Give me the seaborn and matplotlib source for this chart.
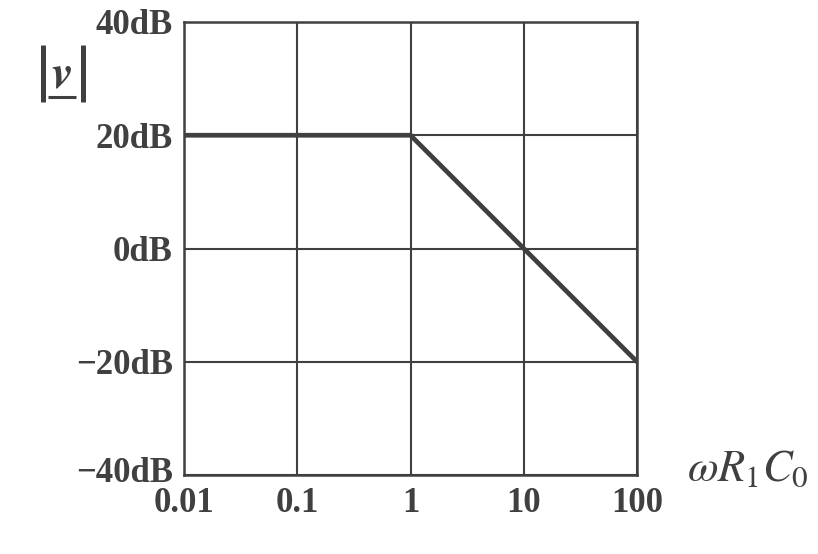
import matplotlib
matplotlib.use("Agg")
import matplotlib.pyplot as plt
import matplotlib.transforms as mtransforms
import seaborn as sns
import pandas as pd
from matplotlib.lines import Line2D

sns.set_theme(style="white")
plt.rcParams['font.family'] = ['Liberation Serif', 'DejaVu Serif']
plt.rcParams['mathtext.fontset'] = 'stix'

# data
freq = [0.01, 1, 100]
gain_db = [20, 20, -20]
x_ticks = [0.01, 0.1, 1, 10, 100]
x_tick_labels = ["0.01", "0.1", "1", "10", "100"]
y_ticks = [-40, -20, 0, 20, 40]
y_tick_labels = ["\u221240dB", "\u221220dB", "0dB", "20dB", "40dB"]

C = "#404040"
df = pd.DataFrame({"f": freq, "g": gain_db})

W, H = 818, 554
fig = plt.figure(figsize=(W/100, H/100), dpi=100)
ax = fig.add_axes([184/W, 1-475/H, (637-184)/W, (475-22)/H])

sns.lineplot(data=df, x="f", y="g", ax=ax, color=C, linewidth=3.4, zorder=5)
ax.set_xscale("log")
ax.set_xlim(0.01, 100)
ax.set_ylim(-40, 40)
ax.set_xticks(x_ticks)
ax.set_xticklabels(x_tick_labels)
ax.set_yticks(y_ticks)
ax.set_yticklabels(y_tick_labels)
ax.minorticks_off()
ax.grid(True, color=C, linewidth=1.5)
for s in ax.spines.values():
    s.set_color(C)
    s.set_linewidth(1.8)
ax.tick_params(length=0, labelsize=25, colors=C)
ax.tick_params(axis="y", pad=8)
ax.tick_params(axis="x", pad=9)
for lab in ax.get_xticklabels() + ax.get_yticklabels():
    lab.set_fontweight("bold")
# lift the bottom y label slightly as in the reference
lab0 = ax.get_yticklabels()[0]
lab0.set_transform(lab0.get_transform() +
                   mtransforms.ScaledTranslation(0, 5/100, fig.dpi_scale_trans))
ax.set_xlabel("")
ax.set_ylabel("")

# x label
fig.text(748/W, 1-470/H, r"$\omega R_1 C_0$", fontsize=32, color=C,
         ha="center", va="center")

# y label |v| with underline
def fline(x0, y0, x1, y1, lw):
    fig.add_artist(Line2D([x0/W, x1/W], [1-y0/H, 1-y1/H], color=C, linewidth=lw,
                          transform=fig.transFigure, solid_capstyle="butt"))

fline(42.5, 45, 42.5, 102, 3.6)
fline(82.5, 45, 82.5, 102, 3.6)
fline(48, 97, 76, 97, 2.2)
fig.text(62/W, 1-76/H, "v", fontsize=34, color=C, ha="center", va="center",
         family="STIXGeneral", style="italic", weight="bold")

fig.savefig("out.png", dpi=100)
